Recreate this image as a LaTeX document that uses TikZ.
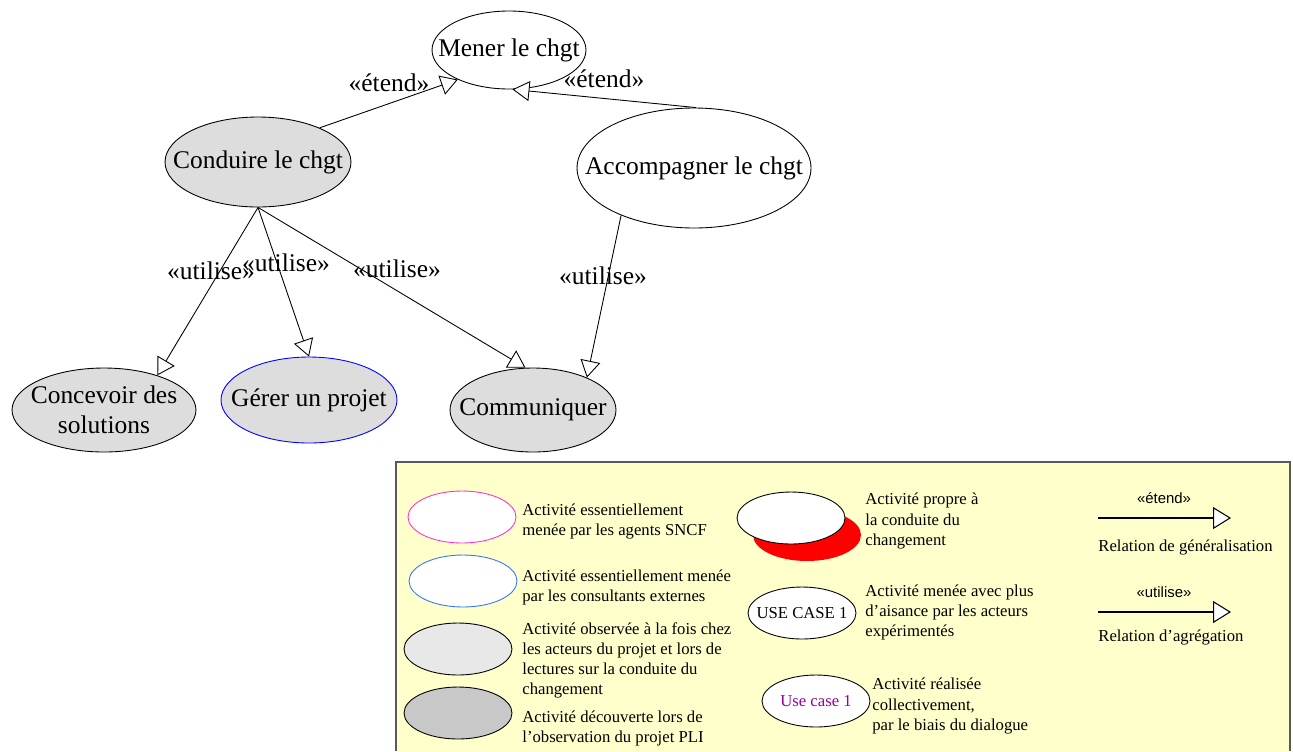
\documentclass[tikz,border=0pt]{standalone}
\usepackage{fontspec}
\setmainfont{Liberation Serif}
\setsansfont{Liberation Sans}
\usepackage{xcolor}
\usetikzlibrary{shapes.geometric, arrows.meta, positioning}

\definecolor{ucgray}{HTML}{DDDDDD}
\definecolor{obsgray}{HTML}{E8E8E8}
\definecolor{decgray}{HTML}{C8C8C8}
\definecolor{legendbg}{HTML}{FFFFCC}
\definecolor{sncfpink}{HTML}{FF33CC}
\definecolor{consblue}{HTML}{3377FF}
\definecolor{ucpurple}{HTML}{990099}

\newcommand{\zw}[1]{\makebox[0pt]{#1}}

\begin{document}
\begin{tikzpicture}[
    x=0.02cm, y=-0.02cm,
    uc/.style={ellipse, draw, line width=0.5pt, inner sep=0pt, align=center, font=\fontsize{14.5}{17}\selectfont},
    luc/.style={ellipse, draw, line width=0.5pt, inner sep=0pt, minimum width=2.16cm, minimum height=1.04cm, font=\fontsize{9.5}{11.4}\selectfont},
    rel/.style={line width=0.5pt, -{Triangle[length=0.34cm, width=0.4cm, fill=white]}},
    lrel/.style={line width=0.6pt, -{Triangle[length=0.36cm, width=0.44cm, fill=white]}},
    lbl/.style={font=\fontsize{14.5}{17}\selectfont, inner sep=0pt},
    slbl/.style={font=\sffamily\fontsize{8.5}{10}\selectfont, inner sep=0pt},
    txt/.style={anchor=west, align=left, inner sep=0pt, font=\fontsize{9.5}{11.4}\selectfont}
]
\useasboundingbox (0,0) rectangle (1293,751);

% --- cas d'utilisation ---
\node[uc, minimum width=3.08cm, minimum height=1.56cm] (mener) at (509,50) {\zw{Mener le chgt}};
\node[uc, fill=ucgray, minimum width=3.72cm, minimum height=1.8cm] (conduire) at (258,162) {\zw{Conduire le chgt}};
\node[uc, minimum width=4.68cm, minimum height=2.4cm] (accomp) at (694,168) {\zw{Accompagner le chgt}};
\node[uc, fill=ucgray, minimum width=3.68cm, minimum height=1.68cm] (concevoir) at (104,410) {\zw{Concevoir des}\\\zw{solutions}};
\node[uc, fill=ucgray, draw=blue, minimum width=3.52cm, minimum height=1.72cm] (gerer) at (309,400) {\zw{Gérer un projet}};
\node[uc, fill=ucgray, minimum width=3.32cm, minimum height=1.68cm] (comm) at (533,410) {\zw{Communiquer}};

% --- relations ---
\draw[rel] (conduire.29) -- (mener.210);
\draw[rel] (accomp.88) -- (mener.275);
\draw[rel] (conduire.south) -- (concevoir.33);
\draw[rel] (conduire.south) -- (gerer.north);
\draw[rel] (conduire.south) -- (comm.100);
\draw[rel] (accomp.213) -- (comm.31);

\node[lbl] (e1) at (389,83) {«étend»};
\node[lbl] (e2) at (604,79) {«étend»};
\node[lbl] (u1) at (211,271) {«utilise»};
\node[lbl] (u2) at (286,263) {«utilise»};
\node[lbl] (u3) at (397,269) {«utilise»};
\node[lbl] (u4) at (603,276) {«utilise»};

% --- légende ---
\fill[legendbg] (396,462) rectangle (1290,751);
\draw[line width=0.8pt, gray!70!black] (396,751) -- (396,462) -- (1290,462) -- (1290,751);

\node[luc, draw=sncfpink, fill=white] (l1) at (462,517) {};
\node[luc, draw=consblue, fill=white] (l2) at (463,581) {};
\node[luc, fill=obsgray] (l3) at (458,649) {};
\node[luc, fill=decgray] (l4) at (458,713) {};
\node[luc, draw=none, fill=red] (l5s) at (807,535) {};
\node[luc, fill=white] (l5) at (791,518) {};
\node[luc, fill=white] (l6) at (802,613) {\zw{USE CASE 1}};
\node[luc, fill=white, text=ucpurple] (l7) at (816,701) {\zw{Use case 1}};

\node[txt] (t1) at (522,521) {Activité essentiellement\\menée par les agents SNCF};
\node[txt] (t2) at (522,587) {Activité essentiellement menée\\par les consultants externes};
\node[txt] (t3) at (522,660) {Activité observée à la fois chez\\les acteurs du projet et lors de\\lectures sur la conduite du\\changement};
\node[txt] (t4) at (522,728) {Activité découverte lors de\\l’observation du projet PLI};
\node[txt] (t5) at (865,521) {Activité propre à\\la conduite du\\changement};
\node[txt] (t6) at (865,612) {Activité menée avec plus\\d’aisance par les acteurs\\expérimentés};
\node[txt] (t7) at (872,706) {Activité réalisée\\collectivement,\\par le biais du dialogue};

\coordinate (g0) at (1098,518);
\coordinate (g1) at (1231,518);
\draw[lrel] (g0) -- (g1);
\node[slbl] (gl) at (1164,498) {«étend»};
\node[txt] (gt) at (1098,547) {Relation de généralisation};

\coordinate (a0) at (1098,612);
\coordinate (a1) at (1231,612);
\draw[lrel] (a0) -- (a1);
\node[slbl] (al) at (1164,592) {«utilise»};
\node[txt] (at) at (1098,637) {Relation d’agrégation};
\end{tikzpicture}
\end{document}
